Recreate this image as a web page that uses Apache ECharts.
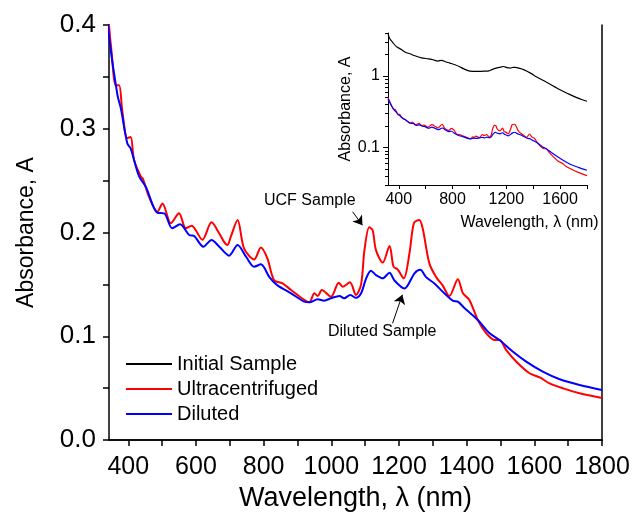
<!DOCTYPE html>
<html>
<head>
<meta charset="utf-8">
<script src="https://cdn.jsdelivr.net/npm/echarts@6/dist/echarts.min.js"></script>
<style>
  html, body { margin: 0; background: #fff; }
  #main { width: 634px; height: 525px; }
</style>
</head>
<body>
<div id="main"></div>
<script>
// wavelength (nm), absorbance A
var ucfSample = [
  [320, 0.50], [343, 0.400], [350, 0.376], [363, 0.342], [373, 0.342], [382, 0.318],
  [397, 0.291], [407, 0.292], [417, 0.270], [437, 0.254], [443, 0.252], [461, 0.2345],
  [486, 0.220], [501, 0.228], [526, 0.209], [550, 0.2185], [570, 0.204], [587, 0.2066],
  [619, 0.193], [646, 0.2098], [669, 0.199], [683, 0.191], [693, 0.188], [703, 0.196],
  [723, 0.212], [742, 0.1848], [772, 0.174], [792, 0.1855], [811, 0.175], [831, 0.154],
  [856, 0.151], [881, 0.1446], [920, 0.135], [935, 0.1327], [950, 0.1414], [960, 0.1388],
  [972, 0.1446], [999, 0.138], [1022, 0.1516], [1034, 0.1478], [1055, 0.152], [1073, 0.1398],
  [1088, 0.150], [1098, 0.183], [1112, 0.205], [1122, 0.2024], [1132, 0.183], [1152, 0.171],
  [1172, 0.187], [1184, 0.167], [1196, 0.1645], [1214, 0.1558], [1231, 0.180], [1244, 0.209],
  [1260, 0.212], [1270, 0.204], [1290, 0.170], [1310, 0.157], [1329, 0.149], [1349, 0.1388],
  [1374, 0.155], [1389, 0.1414], [1408, 0.135], [1433, 0.1157], [1458, 0.1028], [1482, 0.0964],
  [1497, 0.0964], [1517, 0.0867], [1547, 0.0755], [1586, 0.0643], [1616, 0.0604], [1645, 0.0546],
  [1685, 0.0498], [1734, 0.045], [1800, 0.0405]
]
var dilutedSample = [
  [320, 0.48], [343, 0.390], [368, 0.3325], [378, 0.3197], [397, 0.286], [407, 0.281],
  [432, 0.254], [452, 0.244], [486, 0.219], [506, 0.2185], [530, 0.204], [553, 0.208],
  [580, 0.1976], [595, 0.1966], [622, 0.1863], [646, 0.1928], [669, 0.1863], [698, 0.1777],
  [723, 0.188], [748, 0.1767], [772, 0.167], [792, 0.1693], [817, 0.157], [841, 0.149],
  [881, 0.1414], [920, 0.1333], [935, 0.1327], [960, 0.1356], [979, 0.1343], [999, 0.1366],
  [1024, 0.1388], [1038, 0.1366], [1056, 0.1398], [1073, 0.137], [1088, 0.1414], [1103, 0.1558],
  [1117, 0.1632], [1132, 0.159], [1152, 0.1558], [1172, 0.1613], [1186, 0.154], [1216, 0.146],
  [1246, 0.1607], [1263, 0.164], [1280, 0.157], [1304, 0.151], [1334, 0.1414], [1359, 0.1343],
  [1374, 0.1333], [1394, 0.127], [1433, 0.1157], [1468, 0.1028], [1497, 0.0964], [1537, 0.085],
  [1576, 0.0755], [1625, 0.0658], [1675, 0.0585], [1734, 0.053], [1800, 0.0482]
]
// only shown in the inset (log scale)
var initialSample = [
  [320, 3.85], [335, 3.3], [355, 2.95], [380, 2.6], [420, 2.35], [450, 2.15], [483, 2.05],
  [520, 1.92], [570, 1.8], [620, 1.74], [656, 1.69], [690, 1.62], [720, 1.66], [743, 1.6],
  [780, 1.52], [818, 1.44], [850, 1.36], [880, 1.27], [910, 1.2], [930, 1.17], [980, 1.16],
  [1030, 1.17], [1070, 1.18], [1092, 1.23], [1130, 1.3], [1160, 1.34], [1179, 1.36], [1205, 1.31],
  [1228, 1.29], [1250, 1.32], [1266, 1.32], [1300, 1.28], [1328, 1.23], [1380, 1.1], [1427, 0.97],
  [1480, 0.86], [1526, 0.77], [1575, 0.68], [1625, 0.61], [1675, 0.55], [1724, 0.5], [1760, 0.47],
  [1800, 0.445]
]

var mainXTicks = [400, 500, 600, 700, 800, 900, 1000, 1100, 1200, 1300, 1400, 1500, 1600, 1700, 1800]
var mainXLabels = [400, 600, 800, 1000, 1200, 1400, 1600, 1800]
var mainYTicks = [0, 0.05, 0.1, 0.15, 0.2, 0.25, 0.3, 0.35, 0.4]
var mainYLabels = [0, 0.1, 0.2, 0.3, 0.4]
var insetXTicks = [400, 600, 800, 1000, 1200, 1400, 1600, 1800]
var insetXLabels = [400, 800, 1200, 1600]
var insetYLabels = [0.1, 1]
var insetYMinor = [0.03, 0.04, 0.05, 0.06, 0.07, 0.08, 0.09, 0.2, 0.3, 0.4, 0.5, 0.6, 0.7, 0.8, 0.9, 2, 3, 4]

var font = 'Liberation Sans, Arial, sans-serif'
var black = '#000'
// no thousands separator on the wavelength labels
var plain = function (v) { return String(v) }

var myChart = echarts.init(document.getElementById('main'))

var option = {
  animation: false,
  backgroundColor: '#fff',
  textStyle: { fontFamily: font, color: black },
  grid: [
    { left: 109, right: 32, top: 25, bottom: 85 },
    { left: 388, top: 33, width: 199, height: 152 }
  ],
  legend: {
    orient: 'vertical',
    left: 126,
    top: 354,
    padding: 0,
    icon: 'rect',
    itemWidth: 46,
    itemHeight: 2,
    itemGap: 5,
    data: ['Initial Sample', 'Ultracentrifuged', 'Diluted'],
    textStyle: { fontSize: 20, fontFamily: font, color: black },
    selectedMode: false
  },
  xAxis: [
    {
      type: 'value', gridIndex: 0, min: 343, max: 1800,
      name: 'Wavelength, λ (nm)', nameLocation: 'middle', nameGap: 41,
      nameTextStyle: { fontSize: 27, fontFamily: font, color: black },
      axisLine: { lineStyle: { color: black, width: 1.5 } },
      axisTick: { customValues: mainXTicks, length: 6, lineStyle: { color: black, width: 1.5 } },
      axisLabel: { customValues: mainXLabels, formatter: plain, fontSize: 25, margin: 15, color: black, fontFamily: font },
      splitLine: { show: false }
    },
    {
      type: 'value', gridIndex: 0, min: 343, max: 1800, position: 'top',
      axisLine: { lineStyle: { color: black, width: 1.5 } },
      axisTick: { customValues: mainXTicks, inside: true, length: 6, lineStyle: { color: black, width: 1.5 } },
      axisLabel: { show: false },
      splitLine: { show: false }
    },
    {
      type: 'value', gridIndex: 1, min: 320, max: 1800,
      name: 'Wavelength, λ (nm)', nameLocation: 'middle', nameGap: 30,
      nameTextStyle: { fontSize: 16, fontFamily: font, color: black, padding: [0, 0, 0, 84] },
      axisLine: { lineStyle: { color: black, width: 1 } },
      axisTick: { customValues: insetXTicks, length: 4, lineStyle: { color: black } },
      axisLabel: { customValues: insetXLabels, formatter: plain, fontSize: 16, margin: 7, color: black, fontFamily: font },
      splitLine: { show: false }
    }
  ],
  yAxis: [
    {
      type: 'value', gridIndex: 0, min: 0, max: 0.4,
      name: 'Absorbance, A', nameLocation: 'middle', nameGap: 71,
      nameTextStyle: { fontSize: 23, fontFamily: font, color: black },
      axisLine: { lineStyle: { color: black, width: 1.5 } },
      axisTick: { customValues: mainYTicks, length: 6, lineStyle: { color: black, width: 1.5 } },
      axisLabel: {
        customValues: mainYLabels, fontSize: 26, margin: 13, color: black, fontFamily: font,
        formatter: function (v) { return v.toFixed(1) }
      },
      splitLine: { show: false }
    },
    {
      type: 'value', gridIndex: 0, min: 0, max: 0.4, position: 'right',
      axisLine: { show: true, lineStyle: { color: black, width: 1.5 } },
      axisTick: { show: false },
      axisLabel: { show: false },
      splitLine: { show: false }
    },
    {
      type: 'log', logBase: 10, gridIndex: 1, min: 0.03, max: 4,
      name: 'Absorbance, A', nameLocation: 'middle', nameGap: 34,
      nameTextStyle: { fontSize: 16, fontFamily: font, color: black },
      axisLine: { show: true, lineStyle: { color: black, width: 1 } },
      axisTick: { customValues: insetYLabels, length: 5, lineStyle: { color: black } },
      axisLabel: { customValues: insetYLabels, fontSize: 16, margin: 8, color: black, fontFamily: font },
      splitLine: { show: false }
    },
    {
      // minor log ticks of the inset
      type: 'log', logBase: 10, gridIndex: 1, min: 0.03, max: 4, position: 'left',
      axisLine: { show: false },
      axisTick: { customValues: insetYMinor, length: 3, lineStyle: { color: black } },
      axisLabel: { show: false },
      splitLine: { show: false }
    }
  ],
  series: [
    {
      name: 'Ultracentrifuged', type: 'line', xAxisIndex: 0, yAxisIndex: 0,
      data: ucfSample, symbol: 'none', smooth: 0.3, clip: true,
      lineStyle: { color: '#ff0000', width: 2 }, itemStyle: { color: '#ff0000' },
      markLine: {
        silent: true, symbol: ['none', 'arrow'], symbolSize: 9, label: { show: false },
        lineStyle: { color: black, width: 1, type: 'solid' },
        data: [[{ coord: [1063, 0.220] }, { coord: [1092, 0.207] }]]
      }
    },
    {
      name: 'Diluted', type: 'line', xAxisIndex: 0, yAxisIndex: 0,
      data: dilutedSample, symbol: 'none', smooth: 0.3, clip: true,
      lineStyle: { color: '#0000ff', width: 2 }, itemStyle: { color: '#0000ff' },
      markLine: {
        silent: true, symbol: ['none', 'arrow'], symbolSize: 9, label: { show: false },
        lineStyle: { color: black, width: 1, type: 'solid' },
        data: [[{ coord: [1181, 0.1125] }, { coord: [1210, 0.140] }]]
      }
    },
    {
      name: 'Initial Sample', type: 'line', xAxisIndex: 2, yAxisIndex: 2,
      data: initialSample, symbol: 'none', smooth: 0.3,
      lineStyle: { color: black, width: 1.2 }, itemStyle: { color: black }
    },
    {
      name: 'Ultracentrifuged', type: 'line', xAxisIndex: 2, yAxisIndex: 2,
      data: ucfSample, symbol: 'none', smooth: 0.3,
      lineStyle: { color: '#ff0000', width: 1.2 }, itemStyle: { color: '#ff0000' }
    },
    {
      name: 'Diluted', type: 'line', xAxisIndex: 2, yAxisIndex: 2,
      data: dilutedSample, symbol: 'none', smooth: 0.3,
      lineStyle: { color: '#0000ff', width: 1.2 }, itemStyle: { color: '#0000ff' }
    }
  ],
  graphic: [
    { type: 'text', left: 264, top: 193, style: { text: 'UCF Sample', fontSize: 16, fontFamily: font, fill: black } },
    { type: 'text', left: 328, top: 324, style: { text: 'Diluted Sample', fontSize: 16, fontFamily: font, fill: black } }
  ]
}
myChart.setOption(option)
</script>
</body>
</html>
